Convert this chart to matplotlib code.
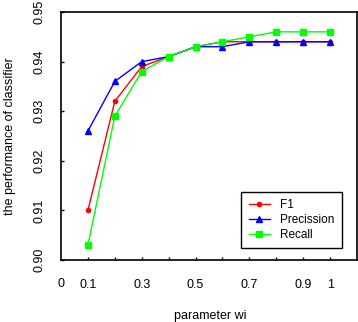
import matplotlib
matplotlib.use('Agg')
import matplotlib.pyplot as plt

# data
wi = [0.1, 0.2, 0.3, 0.4, 0.5, 0.6, 0.7, 0.8, 0.9, 1.0]
f1 = [0.910, 0.932, 0.939, 0.941, 0.943, 0.944, 0.944, 0.944, 0.944, 0.944]
precission = [0.926, 0.936, 0.940, 0.941, 0.943, 0.943, 0.944, 0.944, 0.944, 0.944]
recall = [0.903, 0.929, 0.938, 0.941, 0.943, 0.944, 0.945, 0.946, 0.946, 0.946]

x_ticks = [0.1, 0.2, 0.3, 0.4, 0.5, 0.6, 0.7, 0.8, 0.9, 1.0]
x_labels = ['0.1', '', '0.3', '', '0.5', '', '0.7', '', '0.9', '1']
y_ticks = [0.90, 0.91, 0.92, 0.93, 0.94, 0.95]
y_labels = ['0.90', '0.91', '0.92', '0.93', '0.94', '0.95']

plt.rcParams['font.family'] = ['Liberation Sans', 'DejaVu Sans']
fs = 9

fig = plt.figure(figsize=(3.58, 3.22), dpi=100)
ax = fig.add_axes([61 / 358, 1 - 260 / 322, 296 / 358, 248 / 322])

ax.plot(wi, f1, color='red', lw=1, marker='o', ms=3, label='F1')
ax.plot(wi, precission, color='blue', lw=1, marker='^', ms=5, label='Precission')
ax.plot(wi, recall, color='#00ff00', lw=1, marker='s', ms=4.5, label='Recall')

ax.set_xlim(0, 1.1)
ax.set_ylim(0.90, 0.95)
ax.set_xticks(x_ticks)
ax.set_xticklabels(x_labels, fontsize=fs)
ax.set_yticks(y_ticks)
ax.set_yticklabels(y_labels, fontsize=fs, rotation=90, va='center')
ax.tick_params(direction='in', length=2.5, width=1)
ax.tick_params(axis='x', pad=14)
ax.tick_params(axis='y', pad=11)
# the "0" label at the origin
ax.text(0, -0.072, '0', transform=ax.get_xaxis_transform(), ha='center',
        va='top', fontsize=fs)

for s in ax.spines.values():
    s.set_linewidth(1.2)

fig.text(210 / 358, 1 - 316 / 322, 'parameter wi', fontsize=fs,
         ha='center', va='center')
fig.text(10 / 358, 1 - 136 / 322, 'the performance of classifier', fontsize=fs,
         ha='center', va='center', rotation=90)

leg = ax.legend(loc='lower right', bbox_to_anchor=(0.949, 0.048), fontsize=8.5,
                fancybox=False, framealpha=1, edgecolor='black',
                handlelength=1.8, handletextpad=0.9, borderpad=0.6,
                labelspacing=0.25, borderaxespad=0)
leg.get_frame().set_linewidth(1)

fig.savefig('out.png', dpi=100)
